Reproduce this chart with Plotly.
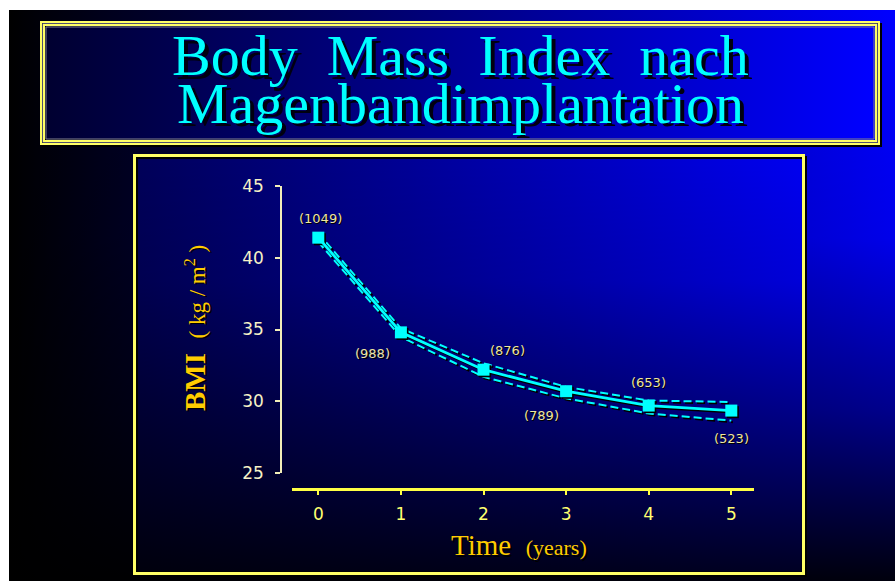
import base64
import plotly.graph_objects as go

# ---------------- data ----------------
years = [0, 1, 2, 3, 4, 5]
bmi_mean = [41.4, 34.8, 32.2, 30.7, 29.7, 29.35]
bmi_upper = [41.7, 35.08, 32.65, 31.0, 30.05, 29.95]
bmi_lower = [41.1, 34.48, 31.7, 30.2, 29.15, 28.65]
n_patients = [1049, 988, 876, 789, 653, 523]
x_tick_vals = [0, 1, 2, 3, 4, 5]
y_tick_vals = [25, 30, 35, 40, 45]
title_lines = ["Body\u00a0\u00a0Mass\u00a0\u00a0Index\u00a0\u00a0nach", "Magenbandimplantation"]

# ---------------- geometry helpers ----------------
W, H = 895, 581
def px(x):
    return x / W
def py(y):
    return 1 - y / H

X_PX_PER_UNIT = 82.6
Y_PX_PER_UNIT = 14.35

def svg_uri(w, h, body):
    svg = ('<svg xmlns="http://www.w3.org/2000/svg" width="%d" height="%d" viewBox="0 0 %d %d" '
           'preserveAspectRatio="none">%s</svg>') % (w, h, w, h, body)
    return "data:image/svg+xml;base64," + base64.b64encode(svg.encode()).decode()

def grad_body(w, h, hstops, vstops):
    hs = "".join('<stop offset="%s" stop-color="%s"/>' % (o, c) for o, c in hstops)
    vs = "".join('<stop offset="%s" stop-color="#000000" stop-opacity="%s"/>' % (o, a) for o, a in vstops)
    return ('<defs><linearGradient id="h" x1="0" y1="0" x2="1" y2="0">%s</linearGradient>'
            '<linearGradient id="v" x1="0" y1="0" x2="0" y2="1">%s</linearGradient></defs>'
            '<rect x="0" y="0" width="%d" height="%d" fill="url(#h)"/>'
            '<rect x="0" y="0" width="%d" height="%d" fill="url(#v)"/>') % (hs, vs, w, h, w, h)

def bg_image(x0, y0, x1, y1, hstops, vstops):
    w, h = x1 - x0, y1 - y0
    return dict(source=svg_uri(w, h, grad_body(w, h, hstops, vstops)),
                xref="paper", yref="paper", x=px(x0), y=py(y0),
                sizex=w / W, sizey=h / H, xanchor="left", yanchor="top",
                sizing="stretch", layer="below")

images = [
    # slide background
    bg_image(9, 10, 895, 581,
             [(0, "#000000"), (0.35, "#00005a"), (1, "#0000ff")],
             [(0, 0), (0.4, 0.08), (0.7, 0.45), (0.86, 0.72), (1, 0.95)]),
    # title box fill
    bg_image(46, 27, 874, 139,
             [(0, "#000030"), (1, "#0000ff")],
             [(0, 0), (1, 0)]),
    # chart box fill
    bg_image(136, 157, 801, 571,
             [(0, "#000058"), (1, "#0000f0")],
             [(0, 0), (0.3, 0.1), (0.6, 0.42), (1, 0.85)]),
]

def rect(x0, y0, x1, y1, color, width):
    return dict(type="rect", xref="paper", yref="paper",
                x0=px(x0), y0=py(y0), x1=px(x1), y1=py(y1),
                line=dict(color=color, width=width), fillcolor="rgba(0,0,0,0)",
                layer="below")

shapes = [
    # title frame
    rect(43, 24, 881, 146, "#000000", 2),
    rect(41, 22, 879, 144, "#ffff66", 2),
    rect(42.5, 23.5, 877.5, 142.5, "#505070", 1),
    rect(44, 25, 876, 141, "#ffff66", 2),
    rect(46, 27, 874, 139, "#808090", 1),
    # chart frame
    rect(136.5, 157.5, 805.5, 575.5, "#000000", 3),
    rect(134.5, 155.5, 803.5, 573.5, "#ffff66", 3),
]

# ---------------- traces ----------------
sdx = 1.6 / X_PX_PER_UNIT
sdy = 1.6 / Y_PX_PER_UNIT
sx = [v + sdx for v in years]

fig = go.Figure()
for series in (bmi_upper, bmi_lower):
    fig.add_trace(go.Scatter(x=sx, y=[v - sdy for v in series], mode="lines",
                             line=dict(color="#000000", width=2, dash="8px,4px"),
                             hoverinfo="skip", showlegend=False))
for series in (bmi_upper, bmi_lower):
    fig.add_trace(go.Scatter(x=years, y=series, mode="lines",
                             line=dict(color="#00ffff", width=2, dash="8px,4px"),
                             hoverinfo="skip", showlegend=False))
fig.add_trace(go.Scatter(x=sx, y=[v - sdy for v in bmi_mean], mode="lines+markers",
                         line=dict(color="#000000", width=2.8),
                         marker=dict(symbol="square", size=12, color="#000000"),
                         hoverinfo="skip", showlegend=False))
fig.add_trace(go.Scatter(x=years, y=bmi_mean, mode="lines+markers",
                         line=dict(color="#00ffff", width=2.8),
                         marker=dict(symbol="square", size=12, color="#00ffff",
                                     line=dict(width=0)),
                         hoverinfo="skip", showlegend=False))

# ---------------- annotations ----------------
annotations = []
label_offsets = [(2, -19), (-28, 21), (24, -19), (-25, 24), (0, -23), (0, 28)]
label_font = dict(family="DejaVu Sans", size=13)
for xv, yv, n, (dx, dy) in zip(years, bmi_mean, n_patients, label_offsets):
    annotations.append(dict(x=xv, y=yv, xref="x", yref="y", text="(%d)" % n,
                            showarrow=False, xshift=dx + 1.2, yshift=-dy - 1.2,
                            font=dict(label_font, color="#000000")))
    annotations.append(dict(x=xv, y=yv, xref="x", yref="y", text="(%d)" % n,
                            showarrow=False, xshift=dx, yshift=-dy,
                            font=dict(label_font, color="#eee6a0")))

def shadowed(text, x, y, font, color, shadow, off, **kw):
    a = dict(xref="paper", yref="paper", showarrow=False, text=text, **kw)
    return [dict(a, x=px(x + off), y=py(y + off), font=dict(font, color=shadow)),
            dict(a, x=px(x), y=py(y), font=dict(font, color=color))]

title_font = dict(family="Liberation Serif", size=58)
annotations += shadowed(title_lines[0], 461, 56, title_font, "#00ffff", "#000010", 3,
                        xanchor="center", yanchor="middle")
annotations += shadowed(title_lines[1], 461, 104, title_font, "#00ffff", "#000010", 3,
                        xanchor="center", yanchor="middle")

ytitle = ("<b>BMI</b>\u00a0\u00a0<span style='font-size:23px'>(\u00a0kg\u00a0/\u00a0m<sup>2</sup>\u00a0)</span>")
annotations += shadowed(ytitle, 195, 328, dict(family="Liberation Serif", size=29),
                        "#ffcc00", "#000000", 1.5, textangle=-90,
                        xanchor="center", yanchor="middle")
xtitle = "Time\u00a0\u00a0<span style='font-size:22px'>(years)</span>"
annotations += shadowed(xtitle, 519, 545, dict(family="Liberation Serif", size=29),
                        "#ffcc00", "#000000", 1.5, xanchor="center", yanchor="middle")

# ---------------- layout ----------------
x0_px, x1_px = 292, 754
zero_px = 318.3
x_range = [(x0_px - zero_px) / X_PX_PER_UNIT, (x1_px - zero_px) / X_PX_PER_UNIT]
y_top_px, y_bot_px = 186, 473

fig.update_layout(
    width=W, height=H,
    margin=dict(l=0, r=0, t=0, b=0, pad=0, autoexpand=False),
    paper_bgcolor="#ffffff",
    plot_bgcolor="rgba(0,0,0,0)",
    showlegend=False,
    images=images,
    shapes=shapes,
    annotations=annotations,
    xaxis=dict(domain=[px(x0_px), px(x1_px)], range=x_range,
               anchor="free", position=py(489), automargin=False,
               showline=True, linecolor="#ffff44", linewidth=2.5,
               ticks="outside", ticklen=4, tickwidth=2, tickcolor="#ffff44",
               tickvals=x_tick_vals, ticktext=[str(v) for v in x_tick_vals],
               tickfont=dict(family="DejaVu Sans", size=17, color="#ffff70"),
               ticklabelstandoff=5,
               showgrid=False, zeroline=False, fixedrange=True),
    yaxis=dict(domain=[py(y_bot_px), py(y_top_px)], range=[25, 45],
               anchor="free", position=px(281), automargin=False,
               showline=True, linecolor="#f2eeb8", linewidth=1.5,
               ticks="outside", ticklen=5, tickwidth=1.5, tickcolor="#f2eeb8",
               tickvals=y_tick_vals, ticktext=[str(v) for v in y_tick_vals],
               tickfont=dict(family="DejaVu Sans", size=17, color="#f6f2c6"),
               ticklabelstandoff=8,
               showgrid=False, zeroline=False, fixedrange=True),
)

fig.write_html("out.html", config={"displayModeBar": False},
               post_script="document.documentElement.style.margin='0';"
                           "document.body.style.margin='0';"
                           "document.body.style.overflow='hidden';")
